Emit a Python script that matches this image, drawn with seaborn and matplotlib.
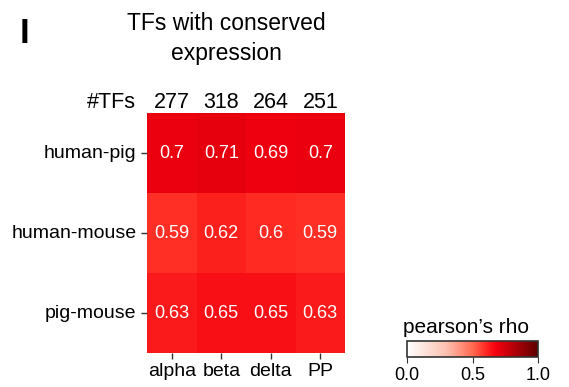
import numpy as np
import pandas as pd
import matplotlib
matplotlib.use("Agg")
import matplotlib.pyplot as plt
from matplotlib.colors import LinearSegmentedColormap
import seaborn as sns

# data
cell_types = ["alpha", "beta", "delta", "PP"]
pairs = ["human-pig", "human-mouse", "pig-mouse"]
n_tfs = [277, 318, 264, 251]
rho_human_pig = [0.7, 0.71, 0.69, 0.7]
rho_human_mouse = [0.59, 0.62, 0.6, 0.59]
rho_pig_mouse = [0.63, 0.65, 0.65, 0.63]

df = pd.DataFrame([rho_human_pig, rho_human_mouse, rho_pig_mouse],
                  index=pairs, columns=cell_types)

plt.rcParams['font.family'] = ['Liberation Sans', 'DejaVu Sans']

cmap = LinearSegmentedColormap.from_list(
    "reds_bright",
    [(0.0, "#ffffff"), (0.3, "#fdc0b0"), (0.5, "#ff6a52"),
     (0.6, "#ff2a22"), (0.68, "#f4000f"), (1.0, "#5e0000")])

fig = plt.figure(figsize=(5.69, 3.87), dpi=100)
ax = fig.add_axes([147 / 569, 34 / 387, 198 / 569, 240 / 387])
cax = fig.add_axes([407 / 569, 30 / 387, 131 / 569, 16 / 387])

sns.heatmap(df, ax=ax, cmap=cmap, vmin=0, vmax=1, annot=True, fmt='g',
            annot_kws={'color': 'white', 'fontsize': 13},
            cbar_ax=cax, cbar_kws={'orientation': 'horizontal', 'ticks': [0, 0.5, 1]})

ax.tick_params(axis='both', length=4, width=1, labelsize=14, color='#333333')
ax.set_yticklabels(pairs, rotation=0)
ax.set_xticklabels(cell_types, rotation=0)
ax.set_xlabel('')
ax.set_ylabel('')

# number of TFs above each column
trans = matplotlib.transforms.blended_transform_factory(ax.transData, ax.transAxes)
for i, n in enumerate(n_tfs):
    ax.text(i + 0.5, 1.021, str(n), transform=trans, ha='center', va='baseline', fontsize=15.5)
ax.text(-0.22, 1.021, "#TFs", transform=trans, ha='right', va='baseline', fontsize=15.5)

fig.text(226 / 569, 1 - 30 / 387, "TFs with conserved",
         ha='center', va='baseline', fontsize=16.5)
fig.text(226 / 569, 1 - 60 / 387, "expression",
         ha='center', va='baseline', fontsize=16.5)
fig.text(20 / 569, 1 - 43 / 387, "I", ha='left', va='baseline', fontsize=25, fontweight='bold')

cbar = ax.collections[0].colorbar
cbar.outline.set_edgecolor('#333333')
cbar.outline.set_linewidth(1.2)
cbar.ax.tick_params(labelsize=13, length=4, color='#333333')
cbar.ax.set_xticklabels(['0.0', '0.5', '1.0'])
cax.set_title("pearson\u2019s rho", fontsize=15, pad=6, x=0.45)

fig.savefig("out.png", dpi=100)
